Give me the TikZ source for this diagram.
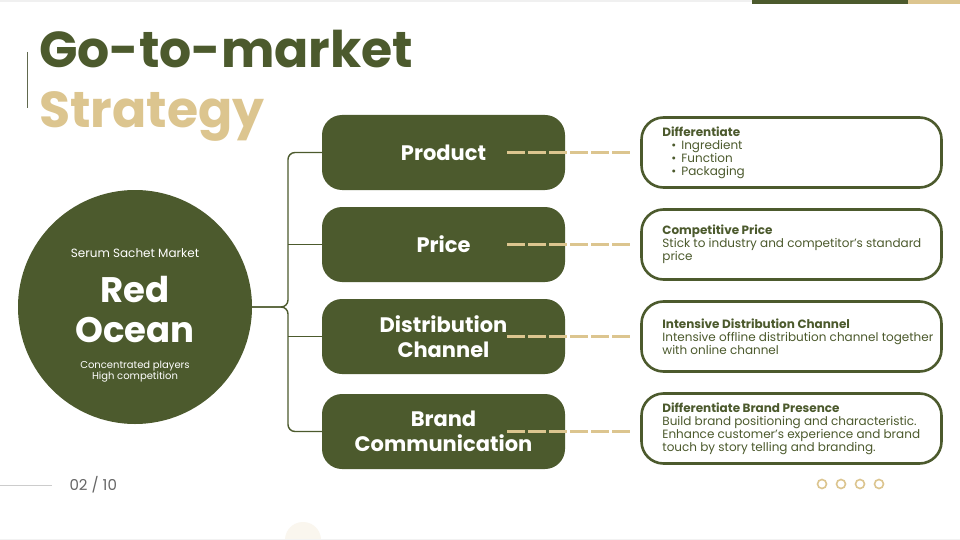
\documentclass[tikz,border=0pt]{standalone}
\usepackage{fontspec}
\setmainfont{Poppins}
\usetikzlibrary{positioning}
\definecolor{gtmgreen}{HTML}{4C5A2D}
\definecolor{gtmtan}{HTML}{DCC58F}

\begin{document}
\begin{tikzpicture}[x=1pt, y=-1pt,
    pillar/.style={fill=gtmgreen, rounded corners=20pt, minimum width=243pt,
                   minimum height=75pt, align=center, text=white,
                   font=\fontsize{21}{25}\selectfont\bfseries},
    detail/.style={draw=gtmgreen, line width=2.6pt, rounded corners=22pt,
                   minimum width=300pt, minimum height=70pt},
    note/.style={anchor=west, align=left, text=gtmgreen, inner sep=0pt,
                 font=\fontsize{12}{13}\selectfont},
    link/.style={gtmtan, line width=3pt, dash pattern=on 18pt off 3pt},
    branch/.style={gtmgreen, line width=1.4pt, rounded corners=7pt}]

\useasboundingbox (0,0) rectangle (960,540);
\fill[white] (0,0) rectangle (960,540);

% page decoration
\fill[black!6] (0,0) rectangle (960,2);
\fill[gtmgreen] (752,0) rectangle (908,4);
\fill[gtmtan]   (908,0) rectangle (960,4);
\draw[gtmgreen!60!gray, line width=1pt] (27,52) -- (27,108);
\fill[gtmtan!15] (303,540) circle (18pt);
\draw[black!5] (0,539) -- (960,539);

\node[anchor=base west, inner sep=0pt, text=gtmgreen,
      font=\fontsize{50.5}{50}\selectfont\bfseries] (title) at (39,68) {Go-to-market};
\node[anchor=base west, inner sep=0pt, text=gtmtan,
      font=\fontsize{50.5}{50}\selectfont\bfseries] (subtitle) at (39,128) {Strategy};

% market circle
\node[circle, fill=gtmgreen, minimum size=234pt] (market) at (135,307) {};
\node[text=white, font=\fontsize{12}{12}\selectfont] (segment) at (135,253)
    {Serum Sachet Market};
\node[text=white, align=center, font=\fontsize{35.5}{40}\selectfont\bfseries]
    (ocean) at (135,310) {Red\\Ocean};
\node[text=white, align=center, font=\fontsize{10}{11}\selectfont]
    (players) at (135,372) {Concentrated players\\High competition};

% four pillars
\node[pillar] (prod)  at (443.5,152.5) {Product};
\node[pillar] (price) at (443.5,244.5) {Price};
\node[pillar] (dist)  at (443.5,336.5) {Distribution\\Channel};
\node[pillar] (brand) at (443.5,431.5) {Brand\\Communication};

\node[detail] (prod-d)  at (791.5,152.5) {};
\node[detail] (price-d) at (791.5,244.5) {};
\node[detail] (dist-d)  at (791.5,336.5) {};
\node[detail] (brand-d) at (791.5,428.5) {};

\draw[link] ([xshift=-58pt]prod.east)  -- ([xshift=-10pt]prod-d.west |- prod.east);
\draw[link] ([xshift=-58pt]price.east) -- ([xshift=-10pt]price-d.west |- price.east);
\draw[link] ([xshift=-58pt]dist.east)  -- ([xshift=-10pt]dist-d.west |- dist.east);
\draw[link] ([xshift=-58pt]brand.east) -- ([xshift=-10pt]brand-d.west |- brand.east);

% bracket
\coordinate (hub) at (288,307);
\draw[branch] (prod.west)  -| (hub) -- (market.east);
\draw[branch] (brand.west) -| (hub) -- (market.east);
\draw[branch] (hub |- price.west) -- (price.west);
\draw[branch] (hub |- dist.west)  -- (dist.west);

% details
\node[note] (prod-t) at ([xshift=22pt]prod-d.west)
    {\textbf{Differentiate}\\
     \hspace*{9pt}•\hspace{5pt}Ingredient\\
     \hspace*{9pt}•\hspace{5pt}Function\\
     \hspace*{9pt}•\hspace{5pt}Packaging};
\node[note] (price-t) at ([xshift=22pt]price-d.west)
    {\textbf{Competitive Price}\\
     Stick to industry and competitor’s standard\\price};
\node[note] (dist-t) at ([xshift=22pt]dist-d.west)
    {\textbf{Intensive Distribution Channel}\\
     Intensive offline distribution channel together\\with online channel};
\node[note] (brand-t) at ([xshift=22pt]brand-d.west)
    {\textbf{Differentiate Brand Presence}\\
     Build brand positioning and characteristic.\\
     Enhance customer’s experience and brand\\
     touch by story telling and branding.};

% footer
\coordinate (rule-end) at (52,485);
\draw[black!20, line width=1pt] (0,485) -- (rule-end);
\node[anchor=west, text=black!60, font=\fontsize{15}{15}\selectfont]
    (page) at (66,485) {02 / 10};
\foreach \i in {0,...,3}
    \draw[gtmtan, line width=1.6pt] (822+19*\i,484) circle (4.5pt);

\end{tikzpicture}
\end{document}
